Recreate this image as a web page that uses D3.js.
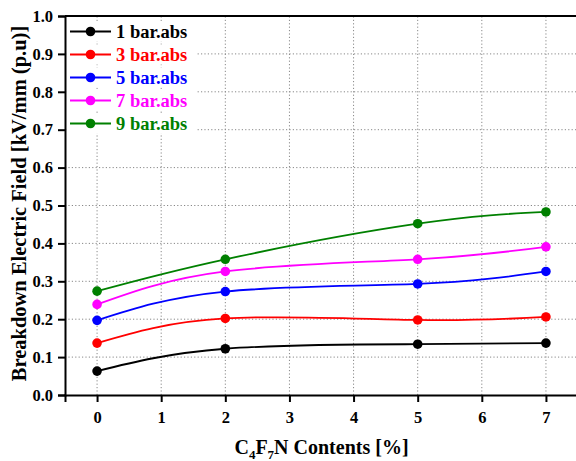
<!DOCTYPE html>
<html>
<head>
<meta charset="utf-8">
<script src="https://cdn.jsdelivr.net/npm/d3@7"></script>
<style>
  body { margin: 0; background: #fff; }
  svg { display: block; }
  text { font-family: "Liberation Serif", "Times New Roman", serif; font-weight: bold; }
</style>
</head>
<body>
<div id="chart"></div>
<script>
const contents = [0, 2, 5, 7];
const bar1 = [0.063, 0.122, 0.134, 0.137];
const bar3 = [0.137, 0.202, 0.198, 0.206];
const bar5 = [0.197, 0.273, 0.293, 0.326];
const bar7 = [0.239, 0.326, 0.358, 0.391];
const bar9 = [0.274, 0.358, 0.452, 0.483];
const seriesNames = ["1 bar.abs", "3 bar.abs", "5 bar.abs", "7 bar.abs", "9 bar.abs"];
const colors = ["#000000", "#ff0000", "#0000ff", "#ff00ff", "#008000"];
const xTicks = [0, 1, 2, 3, 4, 5, 6, 7];
const yTicks = [0, 0.1, 0.2, 0.3, 0.4, 0.5, 0.6, 0.7, 0.8, 0.9, 1.0];

const series = [bar1, bar3, bar5, bar7, bar9].map((vals, i) => ({
  name: seriesNames[i],
  color: colors[i],
  points: contents.map((c, j) => ({ x: c, y: vals[j] }))
}));

const width = 576;
const height = 461;
const margin = { top: 16, right: -2, bottom: 66, left: 65 };

const svg = d3.select("#chart")
  .append("svg")
  .attr("width", width)
  .attr("height", height);

const x = d3.scaleLinear()
  .domain([-0.5, 7.5])
  .range([margin.left, width - margin.right]);

const y = d3.scaleLinear()
  .domain([0, 1])
  .range([height - margin.bottom, margin.top]);

// dotted grid
const grid = svg.append("g")
  .attr("stroke", "#888")
  .attr("stroke-width", 1)
  .attr("stroke-dasharray", "1.2,2.2");

grid.selectAll(".vg")
  .data(xTicks)
  .join("line")
  .attr("x1", d => x(d))
  .attr("x2", d => x(d))
  .attr("y1", y(0))
  .attr("y2", y(1));

grid.selectAll(".hg")
  .data(yTicks.slice(1, -1))
  .join("line")
  .attr("x1", x(-0.5))
  .attr("x2", width)
  .attr("y1", d => y(d))
  .attr("y2", d => y(d));

// axes
const xAxis = svg.append("g")
  .attr("transform", `translate(0,${y(0)})`)
  .call(d3.axisBottom(x).tickValues(xTicks).tickSize(7).tickPadding(9).tickFormat(d3.format("d")));

const yAxis = svg.append("g")
  .attr("transform", `translate(${x(-0.5)},0)`)
  .call(d3.axisLeft(y).tickValues(yTicks).tickSize(7).tickPadding(5).tickFormat(d3.format(".1f")));

[xAxis, yAxis].forEach(ax => {
  ax.select(".domain").attr("stroke", "#000").attr("stroke-width", 2);
  ax.selectAll(".tick line").attr("stroke", "#000").attr("stroke-width", 2);
  ax.selectAll(".tick text")
    .attr("fill", "#000")
    .style("font-size", "16.5px")
    .style("font-family", "'Liberation Serif', 'Times New Roman', serif")
    .style("font-weight", "bold");
});

// top border
svg.append("line")
  .attr("x1", x(-0.5))
  .attr("x2", width)
  .attr("y1", y(1))
  .attr("y2", y(1))
  .attr("stroke", "#000")
  .attr("stroke-width", 2);

// lines
const line = d3.line()
  .x(d => x(d.x))
  .y(d => y(d.y))
  .curve(d3.curveNatural);

const lines = svg.append("g");
series.forEach(s => {
  lines.append("path")
    .datum(s.points)
    .attr("d", line)
    .attr("fill", "none")
    .attr("stroke", s.color)
    .attr("stroke-width", 1.8);

  lines.selectAll(null)
    .data(s.points)
    .join("circle")
    .attr("cx", d => x(d.x))
    .attr("cy", d => y(d.y))
    .attr("r", 4.8)
    .attr("fill", s.color);
});

// legend
const legend = svg.append("g")
  .attr("transform", `translate(${x(-0.5)},0)`);

series.forEach((s, i) => {
  const ly = 31.5 + i * 23;
  legend.append("rect")
    .attr("x", 3)
    .attr("y", ly - 10)
    .attr("width", 128)
    .attr("height", 20)
    .attr("fill", "#fff");
  legend.append("line")
    .attr("x1", 5)
    .attr("x2", 46)
    .attr("y1", ly)
    .attr("y2", ly)
    .attr("stroke", s.color)
    .attr("stroke-width", 1.8);
  legend.append("circle")
    .attr("cx", 25.5)
    .attr("cy", ly)
    .attr("r", 4.8)
    .attr("fill", s.color);
  legend.append("text")
    .attr("x", 51)
    .attr("y", ly)
    .attr("dy", "0.35em")
    .attr("fill", s.color)
    .style("font-size", "18.5px")
    .text(s.name);
});

// axis titles
const xTitle = svg.append("text")
  .attr("x", (x(-0.5) + x(7.5)) / 2)
  .attr("y", 454)
  .attr("text-anchor", "middle")
  .style("font-size", "20px");
xTitle.append("tspan").text("C");
xTitle.append("tspan").attr("dy", 5).style("font-size", "13px").text("4");
xTitle.append("tspan").attr("dy", -5).text("F");
xTitle.append("tspan").attr("dy", 5).style("font-size", "13px").text("7");
xTitle.append("tspan").attr("dy", -5).text("N Contents [%]");

svg.append("text")
  .attr("transform", `translate(26,${(y(0) + y(1)) / 2 - 2}) rotate(-90)`)
  .attr("text-anchor", "middle")
  .style("font-size", "20.5px")
  .text("Breakdown Electric Field [kV/mm (p.u)]");
</script>
</body>
</html>
